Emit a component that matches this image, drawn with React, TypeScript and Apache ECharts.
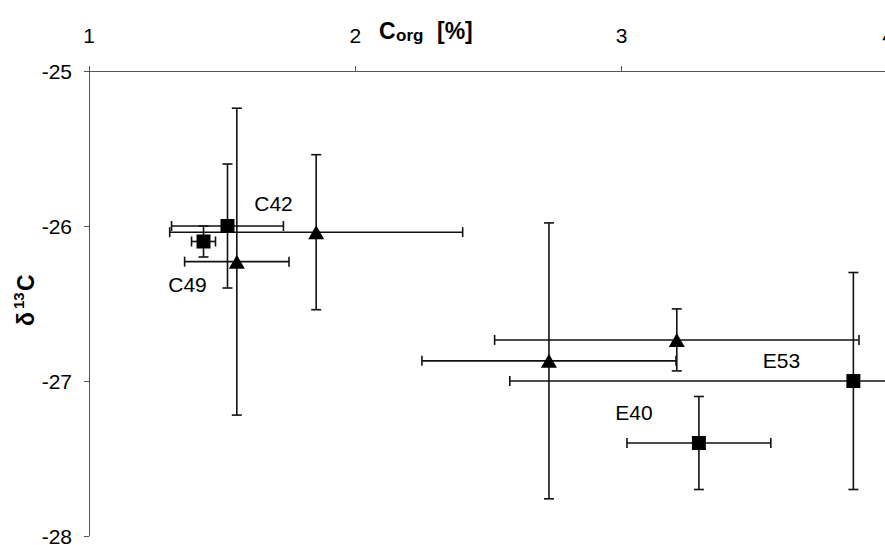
import React, { useEffect, useRef } from "react";
import * as echarts from "echarts";

// ---- data ----
const xTicks = [1, 2, 3, 4];
const yTicks = [-28, -27, -26, -25];

const squareNames = ["C42", "C49", "E53", "E40"];
const squareX = [1.52, 1.43, 3.87, 3.29];
const squareY = [-26.0, -26.1, -27.0, -27.4];
const squareXErr = [0.21, 0.045, 1.29, 0.27];
const squareYErr = [0.4, 0.1, 0.7, 0.3];

const triangleX = [1.555, 1.853, 2.727, 3.207];
const triangleY = [-26.23, -26.04, -26.87, -26.735];
const triangleXErr = [0.196, 0.55, 0.477, 0.684];
const triangleYErr = [0.99, 0.5, 0.89, 0.2];

// ---- style ----
const FONT = "'Liberation Sans', Arial, Helvetica, sans-serif";
const labelOffsets: [number, number][] = [
  [46, -23],
  [-16, 43],
  [-72, -21],
  [-65, -31],
];

function errorBarRenderItem(_params: any, api: any) {
  const x = api.value(0);
  const y = api.value(1);
  const ex = api.value(2);
  const ey = api.value(3);
  const c = api.coord([x, y]);
  const l = api.coord([x - ex, y]);
  const r = api.coord([x + ex, y]);
  const t = api.coord([x, y + ey]);
  const b = api.coord([x, y - ey]);
  const cap = 5;
  const style = { stroke: "#111", lineWidth: 1.6 };
  const ln = (x1: number, y1: number, x2: number, y2: number) => ({
    type: "line",
    shape: { x1, y1, x2, y2 },
    style,
  });
  return {
    type: "group",
    children: [
      ln(l[0], c[1], r[0], c[1]),
      ln(l[0], c[1] - cap, l[0], c[1] + cap),
      ln(r[0], c[1] - cap, r[0], c[1] + cap),
      ln(c[0], t[1], c[0], b[1]),
      ln(c[0] - cap, t[1], c[0] + cap, t[1]),
      ln(c[0] - cap, b[1], c[0] + cap, b[1]),
    ],
  };
}

export default function App() {
  const ref = useRef<HTMLDivElement>(null);

  useEffect(() => {
    if (!ref.current) return;
    const chart = echarts.init(ref.current, undefined, { renderer: "svg" });

    const errData = [
      ...squareX.map((x, i) => [x, squareY[i], squareXErr[i], squareYErr[i]]),
      ...triangleX.map((x, i) => [x, triangleY[i], triangleXErr[i], triangleYErr[i]]),
    ];

    const squareData = squareX.map((x, i) => ({
      value: [x, squareY[i]],
      name: squareNames[i],
      label: {
        show: true,
        position: "inside",
        offset: labelOffsets[i],
        formatter: squareNames[i],
        color: "#000",
        opacity: 1,
        textBorderWidth: 0,
        fontSize: 21,
        fontFamily: FONT,
      },
    }));

    const triangleData = triangleX.map((x, i) => [x, triangleY[i]]);

    const axisLineStyle = { color: "#555", width: 1 };

    chart.setOption({
      animation: false,
      backgroundColor: "#fff",
      grid: {
        left: 89,
        top: 71,
        width: 799,
        height: 465,
        containLabel: false,
        outerBoundsMode: "none",
      },
      xAxis: {
        type: "value",
        position: "top",
        min: xTicks[0],
        max: xTicks[xTicks.length - 1],
        interval: 1,
        axisLine: { show: true, onZero: false, lineStyle: axisLineStyle },
        axisTick: { show: true, length: 5, lineStyle: axisLineStyle },
        axisLabel: { margin: 25, fontSize: 21, color: "#000", fontFamily: FONT },
        splitLine: { show: false },
      },
      yAxis: {
        type: "value",
        min: yTicks[0],
        max: yTicks[yTicks.length - 1],
        interval: 1,
        axisLine: { show: true, onZero: false, lineStyle: axisLineStyle },
        axisTick: { show: true, length: 5, lineStyle: axisLineStyle },
        axisLabel: { margin: 17, fontSize: 21, color: "#000", fontFamily: FONT },
        splitLine: { show: false },
      },
      series: [
        {
          type: "custom",
          renderItem: errorBarRenderItem,
          data: errData,
          z: 2,
          silent: true,
        },
        {
          type: "scatter",
          symbol: "rect",
          symbolSize: 14,
          itemStyle: { color: "#000", opacity: 1 },
          data: squareData,
          z: 3,
        },
        {
          type: "scatter",
          symbol: "triangle",
          symbolSize: [16, 14],
          itemStyle: { color: "#000", opacity: 1 },
          data: triangleData,
          z: 3,
        },
      ],
      graphic: [
        {
          type: "group",
          left: 379,
          top: 19,
          children: [
            {
              type: "text",
              x: 0,
              y: 0,
              style: { text: "C", font: `bold 23px ${FONT}`, fill: "#000" },
            },
            {
              type: "text",
              x: 17,
              y: 8,
              style: { text: "org", font: `bold 17px ${FONT}`, fill: "#000" },
            },
            {
              type: "text",
              x: 58,
              y: 0,
              style: { text: "[%]", font: `bold 23px ${FONT}`, fill: "#000" },
            },
          ],
        },
        {
          type: "group",
          x: 14,
          y: 326,
          rotation: Math.PI / 2,
          children: [
            {
              type: "text",
              x: 0,
              y: 0,
              style: { text: "δ", font: `bold 23px ${FONT}`, fill: "#000" },
            },
            {
              type: "text",
              x: 17,
              y: -3,
              style: { text: "13", font: `bold 15px ${FONT}`, fill: "#000" },
            },
            {
              type: "text",
              x: 35,
              y: 0,
              style: { text: "C", font: `bold 23px ${FONT}`, fill: "#000" },
            },
          ],
        },
      ],
    });

    return () => chart.dispose();
  }, []);

  return (
    <div
      ref={ref}
      style={{ position: "absolute", left: 0, top: 0, width: 885, height: 545 }}
    />
  );
}
